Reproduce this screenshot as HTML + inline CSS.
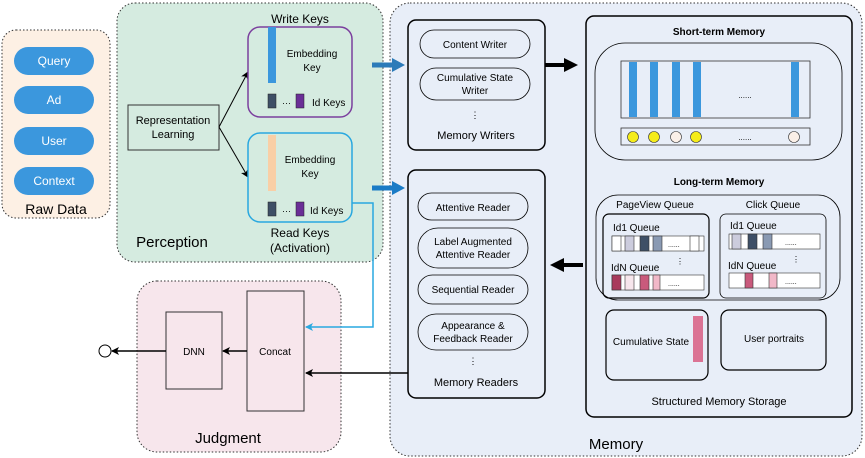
<!DOCTYPE html>
<html><head><meta charset="utf-8"><style>
body{margin:0;background:#fff}
svg{display:block;font-family:"Liberation Sans",Arial,sans-serif}
</style></head><body>
<svg width="865" height="458" viewBox="0 0 865 458" xmlns="http://www.w3.org/2000/svg">
<defs>
<marker id="ab" markerWidth="8" markerHeight="8" refX="7" refY="4" orient="auto" markerUnits="userSpaceOnUse"><path d="M0,0 L8,4 L0,8 L2,4z" fill="#000"/></marker>
<marker id="abl" markerWidth="8" markerHeight="8" refX="7" refY="4" orient="auto" markerUnits="userSpaceOnUse"><path d="M0,0 L8,4 L0,8 L2,4z" fill="#29a8e0"/></marker>
</defs>
<!-- Raw data -->
<rect x="2" y="30" width="108" height="188" rx="14" fill="#fdf0e4" stroke="#333" stroke-dasharray="1.5,2"/>
<g fill="#3b97dd">
<rect x="14" y="47" width="80" height="28" rx="14"/><rect x="14" y="86" width="80" height="28" rx="14"/>
<rect x="14" y="127" width="80" height="28" rx="14"/><rect x="14" y="167" width="80" height="28" rx="14"/></g>
<g font-size="12" fill="#fff" text-anchor="middle"><text x="54" y="65">Query</text><text x="54" y="104">Ad</text><text x="54" y="145">User</text><text x="54" y="185">Context</text></g>
<text x="56" y="214" font-size="14" text-anchor="middle">Raw Data</text>
<!-- Perception -->
<rect x="117" y="3" width="266" height="259" rx="18" fill="#d5ebe0" stroke="#333" stroke-dasharray="1.5,2"/>
<text x="172" y="247" font-size="15" text-anchor="middle">Perception</text>
<rect x="128" y="105" width="91" height="45" fill="#d5ebe0" stroke="#333"/>
<text x="173" y="124" font-size="11" text-anchor="middle">Representation</text><text x="173" y="138" font-size="11" text-anchor="middle">Learning</text>
<line x1="219" y1="127" x2="248" y2="72" stroke="#000" marker-end="url(#ab)"/>
<line x1="219" y1="127" x2="248" y2="177" stroke="#000" marker-end="url(#ab)"/>
<text x="300" y="23" font-size="12" text-anchor="middle">Write Keys</text>
<rect x="248" y="27" width="104" height="90" rx="12" fill="none" stroke="#7b3f9e" stroke-width="1.5"/>
<rect x="268" y="27" width="8" height="56" fill="#3b97dd"/>
<text x="312" y="57" font-size="10" text-anchor="middle">Embedding</text><text x="312" y="71" font-size="10" text-anchor="middle">Key</text>
<rect x="268" y="94" width="8" height="14" fill="#3e4f66" stroke="#222" stroke-width=".5"/><text x="282" y="106" font-size="9">···</text>
<rect x="296" y="94" width="8" height="14" fill="#6a2e96" stroke="#222" stroke-width=".5"/><text x="312" y="106" font-size="10">Id Keys</text>
<rect x="248" y="133" width="104" height="89" rx="12" fill="none" stroke="#29a8e0" stroke-width="1.5"/>
<rect x="268" y="135" width="8" height="56" fill="#f9cfa6"/>
<text x="310" y="163" font-size="10" text-anchor="middle">Embedding</text><text x="310" y="177" font-size="10" text-anchor="middle">Key</text>
<rect x="268" y="202" width="8" height="14" fill="#3e4f66" stroke="#222" stroke-width=".5"/><text x="282" y="214" font-size="9">···</text>
<rect x="296" y="202" width="8" height="14" fill="#6a2e96" stroke="#222" stroke-width=".5"/><text x="310" y="214" font-size="10">Id Keys</text>
<text x="300" y="237" font-size="12" text-anchor="middle">Read Keys</text><text x="300" y="252" font-size="12" text-anchor="middle">(Activation)</text>
<!-- Memory -->
<rect x="390" y="3" width="472" height="453" rx="20" fill="#e8eef8" stroke="#333" stroke-dasharray="1.5,2"/>
<text x="616" y="449" font-size="15" text-anchor="middle">Memory</text>
<path d="M372 65 H394" stroke="#2b7bb9" stroke-width="5"/><path d="M392 58 L405 65 L392 72z" fill="#2b7bb9"/>
<path d="M372 188 H394" stroke="#1a7bc6" stroke-width="5"/><path d="M392 181 L405 188 L392 195z" fill="#1a7bc6"/>
<rect x="408" y="20" width="137" height="130" rx="8" fill="none" stroke="#000" stroke-width="1.5"/>
<g fill="#e8eef8" stroke="#000" stroke-width=".8">
<rect x="420" y="30" width="110" height="28" rx="14"/><rect x="420" y="68" width="110" height="32" rx="16"/></g>
<text x="475" y="48" font-size="10" text-anchor="middle">Content Writer</text>
<text x="475" y="81" font-size="10" text-anchor="middle">Cumulative State</text><text x="475" y="94" font-size="10" text-anchor="middle">Writer</text>
<text x="475" y="118" font-size="9" text-anchor="middle">⋮</text>
<text x="476" y="139" font-size="11" text-anchor="middle">Memory Writers</text>
<rect x="408" y="170" width="137" height="228" rx="8" fill="none" stroke="#000" stroke-width="1.5"/>
<g fill="#e8eef8" stroke="#000" stroke-width=".8">
<rect x="418" y="193" width="110" height="27" rx="13.5"/><rect x="418" y="228" width="110" height="40" rx="20"/>
<rect x="418" y="275" width="110" height="29" rx="14.5"/><rect x="418" y="314" width="110" height="36" rx="18"/></g>
<g font-size="10" text-anchor="middle">
<text x="473" y="211">Attentive Reader</text><text x="473" y="245">Label Augmented</text><text x="473" y="258">Attentive Reader</text>
<text x="473" y="293">Sequential Reader</text><text x="473" y="329">Appearance &amp;</text><text x="473" y="342">Feedback Reader</text>
<text x="473" y="364" font-size="9">⋮</text></g>
<text x="476" y="386" font-size="11" text-anchor="middle">Memory Readers</text>
<path d="M545 65 H566" stroke="#000" stroke-width="4"/><path d="M564 58 L578 65 L564 72z" fill="#000"/>
<path d="M583 265 H562" stroke="#000" stroke-width="4"/><path d="M564 258 L550 265 L564 272z" fill="#000"/>
<rect x="586" y="16" width="266" height="401" rx="8" fill="none" stroke="#000" stroke-width="1.5"/>
<text x="719" y="35" font-size="10" font-weight="bold" text-anchor="middle">Short-term Memory</text>
<rect x="595" y="43" width="247" height="117" rx="30" fill="none" stroke="#000" stroke-width=".8"/>
<rect x="621" y="61" width="189" height="57" fill="none" stroke="#333" stroke-width=".8"/>
<g fill="#3b97dd"><rect x="629" y="62" width="8" height="55"/><rect x="650" y="62" width="8" height="55"/><rect x="672" y="62" width="8" height="55"/><rect x="693" y="62" width="8" height="55"/><rect x="791" y="62" width="8" height="55"/></g>
<text x="745" y="98" font-size="8" text-anchor="middle">......</text>
<rect x="621" y="128" width="189" height="17" fill="none" stroke="#333" stroke-width=".8"/>
<g stroke="#333" stroke-width=".6"><circle cx="633" cy="137" r="5.5" fill="#f5ec1a"/><circle cx="654" cy="137" r="5.5" fill="#f5ec1a"/><circle cx="676" cy="137" r="5.5" fill="#fbf0e8"/><circle cx="696" cy="137" r="5.5" fill="#f5ec1a"/><circle cx="794" cy="137" r="5.5" fill="#fbf0e8"/></g>
<text x="745" y="140" font-size="8" text-anchor="middle">......</text>
<text x="719" y="185" font-size="10" font-weight="bold" text-anchor="middle">Long-term Memory</text>
<rect x="596" y="195" width="244" height="105" rx="22" fill="none" stroke="#000" stroke-width=".8"/>
<text x="655" y="208" font-size="10" text-anchor="middle">PageView Queue</text><text x="773" y="208" font-size="10" text-anchor="middle">Click Queue</text>
<rect x="603" y="214" width="106" height="84" rx="6" fill="none" stroke="#000" stroke-width="1.2"/>
<rect x="720" y="214" width="106" height="84" rx="6" fill="none" stroke="#000" stroke-width=".8"/>
<g font-size="10"><text x="613" y="231">Id1 Queue</text><text x="611" y="271">IdN Queue</text><text x="730" y="229">Id1 Queue</text><text x="728" y="269">IdN Queue</text></g>
<g font-size="8"><text x="676" y="264">⋮</text><text x="792" y="262">⋮</text></g>
<g stroke="#333" stroke-width=".6">
<rect x="612" y="236" width="92" height="15" fill="#fff"/>
<rect x="612" y="236" width="9" height="15" fill="#fff"/><rect x="625" y="236" width="9" height="15" fill="#ccd"/><rect x="640" y="236" width="9" height="15" fill="#3e4f66"/><rect x="653" y="236" width="9" height="15" fill="#8a9ab3"/><rect x="690" y="236" width="9" height="15" fill="#fff"/>
<rect x="612" y="275" width="92" height="15" fill="#fff"/>
<rect x="612" y="275" width="9" height="15" fill="#a83a5c"/><rect x="625" y="275" width="9" height="15" fill="#f7e6ec"/><rect x="640" y="275" width="9" height="15" fill="#c95a7c"/><rect x="653" y="275" width="7" height="15" fill="#f1b8c8"/>
<rect x="729" y="234" width="91" height="15" fill="#fff"/>
<rect x="732" y="234" width="9" height="15" fill="#ccd"/><rect x="748" y="234" width="9" height="15" fill="#3e4f66"/><rect x="763" y="234" width="9" height="15" fill="#8a9ab3"/>
<rect x="729" y="273" width="91" height="15" fill="#fff"/>
<rect x="745" y="273" width="8" height="15" fill="#c95a7c"/><rect x="769" y="273" width="8" height="15" fill="#f1b8c8"/></g>
<g font-size="7"><text x="668" y="247">......</text><text x="668" y="286">......</text><text x="785" y="245">......</text><text x="785" y="284">......</text></g>
<rect x="606" y="310" width="102" height="70" rx="8" fill="none" stroke="#000" stroke-width="1.2"/>
<rect x="693" y="316" width="10" height="46" fill="#db7394"/>
<text x="651" y="345" font-size="10" text-anchor="middle">Cumulative State</text>
<rect x="721" y="310" width="105" height="60" rx="8" fill="none" stroke="#000" stroke-width="1.2"/>
<text x="774" y="342" font-size="10" text-anchor="middle">User portraits</text>
<text x="719" y="405" font-size="11" text-anchor="middle">Structured Memory Storage</text>
<!-- Judgment -->
<rect x="137" y="281" width="204" height="171" rx="20" fill="#f7e6ec" stroke="#333" stroke-dasharray="1.5,2"/>
<text x="228" y="443" font-size="15" text-anchor="middle">Judgment</text>
<rect x="166" y="312" width="56" height="77" fill="#f7e6ec" stroke="#333"/>
<text x="194" y="355" font-size="10" text-anchor="middle">DNN</text>
<rect x="247" y="291" width="57" height="120" fill="#f7e6ec" stroke="#333"/>
<text x="275" y="355" font-size="10" text-anchor="middle">Concat</text>
<line x1="247" y1="351" x2="223" y2="351" stroke="#000" stroke-width="1.5" marker-end="url(#ab)"/>
<line x1="166" y1="351" x2="112" y2="351" stroke="#000" stroke-width="1.5" marker-end="url(#ab)"/>
<circle cx="105" cy="351" r="6" fill="#fff" stroke="#000"/>
<polyline points="352,203 373,203 373,327 306,327" fill="none" stroke="#29a8e0" stroke-width="1.5" marker-end="url(#abl)"/>
<line x1="408" y1="373" x2="306" y2="373" stroke="#000" stroke-width="1.5" marker-end="url(#ab)"/>
</svg>
</body></html>
